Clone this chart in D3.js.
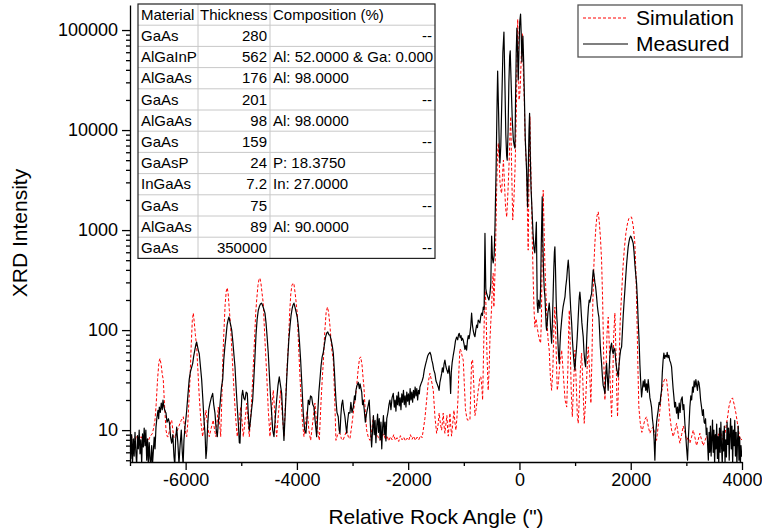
<!DOCTYPE html>
<html>
<head>
<meta charset="utf-8">
<script src="https://cdn.jsdelivr.net/npm/d3@7"></script>
<style>
  body { margin: 0; background: #fff; }
  svg { display: block; font-family: Arial, "Liberation Sans", sans-serif; }
</style>
</head>
<body>
<svg id="chart" width="762" height="530"></svg>
<script>
// axis ticks
const xTicks = [-6000, -4000, -2000, 0, 2000, 4000];
const yTicks = [10, 100, 1000, 10000, 100000];

// layer table
const materials = ['GaAs', 'AlGaInP', 'AlGaAs', 'GaAs', 'AlGaAs', 'GaAs', 'GaAsP', 'InGaAs', 'GaAs', 'AlGaAs', 'GaAs'];
const thickness = ['280', '562', '176', '201', '98', '159', '24', '7.2', '75', '89', '350000'];
const composition = ['--', 'Al: 52.0000 & Ga: 0.000', 'Al: 98.0000', '--', 'Al: 98.0000', '--', 'P: 18.3750', 'In: 27.0000', '--', 'Al: 90.0000', '--'];

// [angle ("), intensity]
const simulation = [
  [-7000,10],[-6960,8.2],[-6920,7.6],[-6880,8.8],[-6840,7.7],[-6800,8.6],[-6760,7.5],[-6720,8.4],[-6680,7.6],[-6641,8.6],
  [-6600,9.2],[-6575,10.5],[-6551,12.6],[-6530,18],[-6505,32],[-6480,48],[-6461,52],[-6440,45],[-6420,36],[-6402,32],
  [-6380,18],[-6353,10],[-6330,8.6],[-6312,8.6],[-6290,10],[-6270,12],[-6251,12.6],[-6230,10],[-6210,8.4],[-6191,8.6],
  [-6160,9.5],[-6120,11],[-6080,12.5],[-6042,13.6],[-6010,10],[-5981,8.6],[-5960,12],[-5940,20],[-5922,32],[-5900,70],
  [-5880,125],[-5862,148],[-5845,120],[-5825,90],[-5802,68],[-5780,40],[-5755,21.5],[-5725,12],[-5694,8.6],[-5665,12],
  [-5634,15.8],[-5605,11],[-5575,8.6],[-5540,10.5],[-5503,12.6],[-5480,10],[-5455,8.6],[-5435,12],[-5413,17],[-5390,12],
  [-5370,8.6],[-5350,20],[-5330,55],[-5311,100],[-5290,180],[-5270,245],[-5252,265],[-5235,230],[-5215,160],[-5191,108],
  [-5160,50],[-5131,25],[-5100,13],[-5072,8.6],[-5040,12],[-5011,17],[-4985,12],[-4964,8.6],[-4935,12],[-4903,18.6],
  [-4880,12.5],[-4856,8.6],[-4825,15],[-4795,32],[-4760,85],[-4740,150],[-4723,200],[-4700,280],[-4680,325],[-4664,330],
  [-4645,290],[-4625,230],[-4605,186],[-4575,80],[-4544,37],[-4515,16],[-4484,8.6],[-4455,15],[-4425,25],[-4395,14],
  [-4364,8.6],[-4330,15],[-4292,25],[-4262,14],[-4233,8.6],[-4200,22],[-4175,45],[-4155,68],[-4130,150],[-4110,230],
  [-4090,280],[-4070,295],[-4053,288],[-4030,230],[-4010,180],[-3994,148],[-3965,60],[-3933,25],[-3900,12],[-3873,8.6],
  [-3845,12],[-3814,15.8],[-3785,10],[-3753,7.9],[-3715,12],[-3676,18.6],[-3640,11],[-3598,7.9],[-3565,20],[-3545,32],
  [-3526,47],[-3500,95],[-3475,150],[-3451,170],[-3430,150],[-3406,110],[-3375,65],[-3346,50],[-3320,20],[-3298,7.9],
  [-3262,9.3],[-3226,9.3],[-3200,8.2],[-3172,7.9],[-3140,8.8],[-3106,10],[-3075,8.5],[-3047,8.2],[-3015,11],[-2987,14.8],
  [-2955,20],[-2927,27],[-2900,40],[-2875,52],[-2854,54],[-2830,45],[-2810,33],[-2795,27],[-2770,15],[-2747,10],
  [-2715,8.4],[-2687,7.9],[-2655,10],[-2627,13.6],[-2595,10.5],[-2567,9.3],[-2535,8.4],[-2508,7.9],[-2470,8.6],[-2440,9.2],
  [-2410,8],[-2380,8.8],[-2350,7.8],[-2320,8.6],[-2290,8],[-2260,9],[-2230,7.9],[-2200,8.4],[-2170,7.7],[-2140,8.8],
  [-2110,8],[-2080,8.5],[-2050,7.8],[-2020,8.3],[-1990,7.9],[-1960,9],[-1930,8.1],[-1900,8.7],[-1870,7.9],[-1840,8.5],
  [-1810,8],[-1780,8.8],[-1750,8.4],[-1735,9.5],[-1700,13],[-1668,20],[-1640,30],[-1609,37],[-1580,31],[-1549,25],
  [-1519,13.6],[-1489,9.3],[-1465,11],[-1443,14.8],[-1420,11.5],[-1399,10],[-1385,12],[-1370,14.8],[-1355,11],[-1340,9.3],
  [-1322,11.5],[-1304,14],[-1292,10.5],[-1280,8.7],[-1265,11],[-1250,14.8],[-1235,11],[-1220,8.7],[-1200,11.5],[-1177,15.8],
  [-1160,12],[-1142,10],[-1125,13],[-1106,20],[-1088,40],[-1070,65],[-1050,62],[-1030,55],[-1010,50],[-990,28],
  [-970,16],[-950,13.6],[-935,12.6],[-920,12.6],[-905,12.6],[-890,12.6],[-875,25],[-860,50],[-842,50],[-820,28],
  [-800,14],[-780,16],[-760,20],[-741,25],[-720,30],[-710,34],[-693,34],[-678,28],[-662,20],[-645,60],
  [-630,150],[-620,250],[-603,186],[-585,60],[-562,25],[-545,40],[-531,79],[-515,120],[-500,170],[-486,300],
  [-472,370],[-460,170],[-445,300],[-430,630],[-410,2500],[-395,5500],[-380,7400],[-365,5000],[-350,3000],[-335,2500],
  [-320,2340],[-305,3500],[-288,5000],[-270,3000],[-250,1700],[-229,1350],[-210,2200],[-195,3500],[-183,5300],[-170,9000],
  [-157,13600],[-140,4000],[-121,1260],[-100,2000],[-80,4000],[-65,9000],[-53,20000],[-42,60000],[-31,128000],[-20,60000],
  [-8,20000],[5,22000],[19,31600],[35,60000],[51,92000],[65,50000],[76,28000],[87,20000],[100,9000],[115,5500],
  [128,4300],[143,1500],[157,630],[170,3000],[180,9000],[188,13600],[200,5500],[210,3000],[218,1990],[233,700],
  [250,280],[262,160],[277,107],[298,130],[319,107],[340,90],[360,80],[380,74],[395,130],[405,400],
  [417,1200],[427,2500],[440,1200],[455,500],[476,232],[495,120],[515,80],[535,63],[555,35],[578,25],
  [600,40],[620,110],[637,170],[655,80],[679,25],[700,30],[725,45],[759,63],[790,35],[820,20],
  [849,17],[870,40],[885,100],[896,158],[910,80],[930,25],[950,13.6],[975,30],[997,63],[1020,30],
  [1040,14],[1056,11.7],[1075,20],[1095,40],[1117,59],[1140,30],[1164,11.7],[1190,20],[1215,40],[1236,68],
  [1260,40],[1284,18.6],[1305,60],[1320,200],[1340,480],[1356,740],[1375,1100],[1395,1400],[1416,1520],[1435,1200],
  [1455,850],[1476,500],[1495,200],[1515,50],[1536,20],[1555,40],[1575,95],[1596,135],[1615,70],[1635,25],
  [1656,13.6],[1675,30],[1695,90],[1715,148],[1735,60],[1750,22],[1763,13.6],[1785,35],[1810,120],[1836,232],
  [1860,420],[1885,650],[1913,930],[1940,1150],[1965,1300],[1990,1350],[2015,1350],[2045,1100],[2074,740],[2095,350],
  [2115,110],[2130,40],[2146,17],[2170,12],[2200,9.5],[2224,10.8],[2255,12.8],[2284,13.6],[2314,11],[2344,9.3],
  [2374,10.2],[2404,10.8],[2435,9],[2464,7.9],[2494,11],[2524,15.8],[2554,24],[2584,29.5],[2615,33],[2644,32],
  [2675,22],[2704,13.6],[2735,10],[2764,8.6],[2795,10],[2824,11.7],[2855,9],[2884,7.4],[2915,9],[2944,11],
  [2975,9.5],[3003,7.9],[3033,8.5],[3063,7.4],[3093,8.5],[3123,10],[3153,8.5],[3183,7],[3213,8],[3243,9.3],
  [3273,8],[3303,7],[3333,7.8],[3363,8.7],[3393,8],[3423,7.4],[3453,8.2],[3483,9.3],[3513,8.5],[3543,7.9],
  [3573,8.8],[3602,10],[3632,9],[3662,7.9],[3692,9],[3722,11.7],[3745,14],[3764,17],[3795,20],[3830,21],
  [3860,18],[3890,14.8],[3915,12],[3935,10],[3960,8.5],[3980,7.9],[4000,8.2]
];

const measured = [
  [-7000,7.5],[-6985,5.2],[-6970,9],[-6955,4.6],[-6940,8.2],[-6925,5.5],[-6910,9.5],[-6895,6],[-6880,4.5],[-6865,8.8],
  [-6850,6.5],[-6835,10],[-6820,5.8],[-6805,8],[-6790,4.6],[-6775,9.2],[-6760,6.8],[-6745,10.5],[-6730,7],[-6715,10],
  [-6700,5],[-6685,8.2],[-6670,4.5],[-6655,7.5],[-6640,5.2],[-6625,4.4],[-6610,7],[-6595,4.6],[-6580,6.2],[-6565,8.5],
  [-6550,6.5],[-6533,10.7],[-6515,13.5],[-6497,15.8],[-6485,13],[-6473,17],[-6455,15],[-6438,18.6],[-6420,16],[-6407,20],
  [-6390,17],[-6370,15.5],[-6353,14.8],[-6335,12],[-6310,13],[-6290,11.7],[-6270,8.5],[-6251,7.4],[-6230,9],[-6210,5.5],
  [-6195,4.5],[-6180,8],[-6161,10.7],[-6140,7.5],[-6120,4.6],[-6100,7],[-6078,10],[-6060,6],[-6045,4.5],[-6030,8],
  [-6010,11],[-5995,13],[-5981,15.8],[-5960,22],[-5936,32],[-5915,38],[-5895,42],[-5873,46.5],[-5855,55],[-5835,63],
  [-5815,72],[-5802,76],[-5785,68],[-5770,62],[-5755,58],[-5735,44],[-5712,32],[-5690,20],[-5670,12.6],[-5650,9],
  [-5635,5.2],[-5622,6.3],[-5605,11],[-5585,16],[-5562,18.6],[-5540,21],[-5514,23.3],[-5495,18],[-5473,14.8],[-5450,10],
  [-5431,8.6],[-5412,12],[-5395,14.8],[-5375,20],[-5355,27],[-5334,32],[-5315,50],[-5295,68],[-5275,86],[-5255,112],
  [-5235,128],[-5221,135],[-5205,122],[-5190,112],[-5172,100],[-5150,75],[-5130,55],[-5113,43],[-5095,28],[-5072,17],
  [-5050,11],[-5035,7.5],[-5023,7.4],[-5008,13],[-4990,22],[-4975,25],[-4955,21],[-4934,20],[-4912,24],[-4892,23.3],
  [-4875,15],[-4856,10],[-4838,12],[-4815,16],[-4795,20],[-4775,32],[-4754,54],[-4735,90],[-4715,128],[-4694,158],
  [-4675,172],[-4655,182],[-4634,186],[-4615,175],[-4595,162],[-4574,148],[-4555,118],[-4535,85],[-4515,59],[-4495,36],
  [-4475,22],[-4454,14.8],[-4435,10],[-4412,8.6],[-4390,13],[-4364,20],[-4340,28],[-4317,34],[-4295,28],[-4274,23.3],
  [-4255,14],[-4233,7.9],[-4210,15],[-4184,32],[-4160,58],[-4145,80],[-4125,108],[-4105,140],[-4085,165],[-4070,178],
  [-4053,186],[-4035,170],[-4015,152],[-3994,135],[-3975,110],[-3955,78],[-3933,50],[-3910,28],[-3886,14.8],[-3860,10],
  [-3837,9.3],[-3815,14],[-3796,20],[-3775,18],[-3755,22],[-3735,21.5],[-3715,18],[-3694,17],[-3670,12],[-3645,8.6],
  [-3625,15],[-3605,24],[-3586,32],[-3566,44],[-3546,54],[-3526,60],[-3505,72],[-3485,85],[-3466,93],[-3445,96],
  [-3425,90],[-3406,89],[-3385,80],[-3365,70],[-3346,59],[-3325,38],[-3310,26],[-3298,20],[-3280,15],[-3257,13.6],
  [-3240,10],[-3226,9.3],[-3210,14],[-3195,18],[-3178,20],[-3160,16],[-3137,13.6],[-3120,11],[-3106,9.3],[-3090,12],
  [-3070,15],[-3047,14.8],[-3030,19],[-3010,15],[-2987,17],[-2965,22],[-2950,20],[-2939,25],[-2920,28],[-2897,30],
  [-2878,26],[-2865,29],[-2854,27],[-2835,24],[-2820,18],[-2807,20],[-2790,16],[-2770,12],[-2747,14.8],[-2725,17],
  [-2700,20],[-2685,13],[-2670,9],[-2657,6.8],[-2640,10],[-2625,14],[-2610,9],[-2595,12.5],[-2580,7.5],[-2565,11],
  [-2550,14.5],[-2535,9.5],[-2520,13],[-2505,8],[-2490,12],[-2475,6.5],[-2460,10.5],[-2445,14],[-2430,9],[-2415,12],
  [-2400,7.8],[-2385,13],[-2364,15],[-2345,18],[-2328,20],[-2310,16],[-2290,21],[-2268,23.3],[-2250,17],[-2235,20],
  [-2220,15.5],[-2205,22],[-2190,18],[-2175,24],[-2160,17.5],[-2145,21],[-2130,16],[-2115,23],[-2100,19],[-2085,25],
  [-2070,18],[-2055,22],[-2040,17],[-2025,24],[-2010,19.5],[-1995,23],[-1980,18],[-1965,26],[-1950,20],[-1935,24],
  [-1920,19],[-1905,25],[-1890,21],[-1875,27],[-1860,22],[-1845,26],[-1830,20],[-1815,25],[-1800,23],[-1789,27],
  [-1770,29],[-1750,31],[-1729,34],[-1710,40],[-1690,45],[-1668,50],[-1650,55],[-1630,58],[-1609,60],[-1590,56],
  [-1575,50],[-1560,46.5],[-1540,40],[-1519,36.7],[-1500,31],[-1480,29],[-1460,27],[-1445,25],[-1430,30],[-1415,33],
  [-1399,36.7],[-1385,42],[-1370,38],[-1355,46],[-1340,50],[-1321,43],[-1305,40],[-1285,37],[-1265,44],[-1250,34],
  [-1237,23.3],[-1225,38],[-1210,47],[-1190,56],[-1170,65],[-1150,78],[-1130,85],[-1110,80],[-1095,90],[-1083,93],
  [-1065,84],[-1050,88],[-1040,79],[-1025,83],[-1010,79],[-995,72],[-980,64],[-965,70],[-950,63],[-935,78],
  [-920,88],[-905,82],[-890,93],[-875,110],[-860,148],[-845,112],[-830,98],[-815,90],[-800,86],[-785,100],
  [-770,112],[-755,106],[-741,126],[-724,122],[-710,118],[-695,138],[-680,148],[-665,140],[-650,170],[-635,160],
  [-620,930],[-605,260],[-590,232],[-570,215],[-549,200],[-530,230],[-515,290],[-500,870],[-485,520],[-472,470],
  [-455,560],[-440,1080],[-420,4000],[-405,15000],[-392,38900],[-375,15000],[-362,6500],[-351,4700],[-335,7000],[-315,22000],
  [-298,60000],[-279,95500],[-262,30000],[-245,9000],[-230,5500],[-220,5000],[-205,9500],[-190,30000],[-176,55000],[-166,62000],
  [-150,30000],[-130,13000],[-110,8000],[-94,7000],[-81,6600],[-70,20000],[-58,60000],[-46,104700],[-34,60000],[-22,31600],
  [-10,60000],[5,120000],[20,144500],[32,90000],[44,48000],[53,70000],[62,87000],[75,50000],[90,20000],[105,8000],
  [118,5500],[128,4000],[137,2600],[146,1700],[160,4500],[172,10000],[182,14700],[195,5500],[208,2600],[218,2000],
  [230,1400],[245,900],[262,650],[277,590],[290,800],[304,1200],[311,500],[319,186],[332,150],[345,200],
  [358,180],[368,165],[380,260],[392,700],[409,2150],[420,800],[432,400],[445,260],[458,215],[470,150],
  [480,110],[488,100],[499,117],[512,150],[524,165],[535,186],[548,150],[560,105],[578,74],[592,120],
  [605,220],[618,420],[628,600],[637,680],[648,400],[660,200],[670,140],[679,117],[690,80],[703,55],
  [715,46.5],[728,70],[740,95],[759,126],[772,150],[785,172],[800,190],[818,215],[832,270],[850,330],
  [864,420],[877,500],[890,400],[905,250],[922,160],[938,117],[952,80],[968,58],[983,46],[997,40],
  [1010,52],[1025,65],[1039,86],[1052,120],[1065,170],[1076,215],[1086,240],[1098,200],[1110,150],[1122,118],
  [1134,100],[1146,86],[1160,60],[1175,48],[1189,43],[1200,60],[1212,90],[1226,130],[1240,170],[1254,200],
  [1268,190],[1282,215],[1297,232],[1312,320],[1326,400],[1340,360],[1355,300],[1369,270],[1385,220],[1400,175],
  [1414,150],[1428,135],[1440,100],[1452,70],[1465,55],[1476,46.5],[1490,35],[1505,28],[1520,26],[1536,23.3],
  [1550,34],[1566,46.5],[1580,34],[1594,25],[1610,38],[1625,55],[1640,68],[1656,74],[1670,62],[1685,58],
  [1700,66],[1715,63],[1730,50],[1745,42],[1760,38],[1775,34],[1790,45],[1805,55],[1820,64],[1836,68],
  [1850,95],[1865,140],[1880,190],[1895,251],[1910,340],[1925,450],[1940,560],[1954,680],[1968,760],[1982,830],
  [1997,870],[2010,850],[2025,800],[2044,740],[2060,600],[2075,450],[2090,360],[2105,293],[2120,200],[2135,120],
  [2152,74],[2165,45],[2180,30],[2195,21.5],[2210,26],[2225,31],[2240,27],[2254,32],[2270,25],[2285,29],
  [2300,24],[2314,32],[2330,26],[2345,21],[2360,19],[2374,17],[2390,13],[2405,11],[2420,8],[2434,5],
  [2448,9],[2465,12],[2480,14],[2494,15.8],[2510,19],[2525,18],[2540,22],[2554,25],[2568,38],[2582,50],
  [2596,59],[2610,52],[2625,56],[2644,54],[2655,60],[2670,53],[2686,56],[2700,50],[2718,47],[2734,43],
  [2750,32],[2762,26],[2776,21.5],[2790,17],[2805,19],[2824,14.8],[2840,17],[2855,13],[2871,18.6],[2888,15],
  [2905,20],[2925,21.5],[2940,16],[2955,18],[2973,11.7],[2988,9],[3005,6.5],[3021,5],[3035,8],[3050,12],
  [3063,17],[3080,22],[3095,20],[3111,27],[3125,24],[3140,31],[3155,27],[3171,32],[3185,28],[3200,25],
  [3212,31],[3225,30],[3240,26],[3256,20],[3273,17],[3290,14],[3305,16],[3320,12],[3333,11.7],[3345,13],
  [3358,9],[3370,10.5],[3381,7.4],[3395,5],[3408,9.5],[3420,6],[3432,11],[3445,5.5],[3458,8.5],[3470,12.6],
  [3482,6],[3495,10],[3508,4.6],[3520,9],[3532,6.5],[3545,11.5],[3558,5.2],[3570,8.6],[3582,4.6],[3595,10.5],
  [3608,6],[3620,12],[3632,7],[3645,4.5],[3658,9.8],[3670,6.2],[3682,11],[3695,4.8],[3708,8],[3720,5.4],
  [3732,12],[3745,7.2],[3758,10.5],[3770,5],[3782,9],[3795,13],[3808,6.5],[3820,11],[3832,4.6],[3845,10],
  [3858,7],[3870,12.5],[3882,5.5],[3895,9.5],[3908,4.5],[3920,8],[3932,11],[3945,5],[3958,8.5],[3970,4.4],
  [3982,7],[3995,5.5],[4000,6]
];

const svg = d3.select('#chart');
const plot = {left: 130, right: 742, top: 5, bottom: 462};

const x = d3.scaleLinear().domain([-7000, 4000]).range([plot.left, plot.right]);
const y = d3.scaleLog().domain([4.8, 178000]).range([plot.bottom, plot.top]);

svg.append('clipPath').attr('id', 'clip')
  .append('rect')
  .attr('x', plot.left).attr('y', plot.top)
  .attr('width', plot.right - plot.left).attr('height', plot.bottom - plot.top);

const line = d3.line()
  .x(d => x(d[0]))
  .y(d => y(d[1]));

const curves = svg.append('g').attr('clip-path', 'url(#clip)');

curves.append('path')
  .datum(simulation)
  .attr('d', line)
  .attr('fill', 'none')
  .attr('stroke', '#ff0000')
  .attr('stroke-width', 1)
  .attr('stroke-dasharray', '3,2');

curves.append('path')
  .datum(measured)
  .attr('d', line)
  .attr('fill', 'none')
  .attr('stroke', '#000')
  .attr('stroke-width', 1.2)
  .attr('stroke-linejoin', 'round');

// x axis
const xMinor = x.ticks(11).filter(t => xTicks.indexOf(t) < 0);
svg.append('g')
  .attr('transform', 'translate(0,' + plot.bottom + ')')
  .call(d3.axisBottom(x).tickValues(xMinor).tickSize(4).tickFormat(''))
  .call(g => g.select('.domain').remove());
const xAxis = svg.append('g')
  .attr('transform', 'translate(0,' + plot.bottom + ')')
  .call(d3.axisBottom(x).tickValues(xTicks).tickSize(8).tickSizeOuter(0).tickPadding(3).tickFormat(d => String(d)));
xAxis.selectAll('text').attr('font-size', 18).attr('fill', '#000');

// y axis
const yMinor = y.ticks().filter(t => yTicks.indexOf(t) < 0);
svg.append('g')
  .attr('transform', 'translate(' + plot.left + ',0)')
  .call(d3.axisLeft(y).tickValues(yMinor).tickSize(4).tickFormat(''))
  .call(g => g.select('.domain').remove());
const yAxis = svg.append('g')
  .attr('transform', 'translate(' + plot.left + ',0)')
  .call(d3.axisLeft(y).tickValues(yTicks).tickSize(8).tickSizeOuter(0).tickPadding(4).tickFormat(d => String(d)));
yAxis.selectAll('text').attr('font-size', 18).attr('fill', '#000');

svg.selectAll('.domain, .tick line').attr('stroke', '#000').attr('stroke-width', 1.3);

// axis titles
svg.append('text')
  .attr('x', 436).attr('y', 524)
  .attr('text-anchor', 'middle')
  .attr('font-size', 21)
  .text('Relative Rock Angle (")');

svg.append('text')
  .attr('transform', 'translate(27,233) rotate(-90)')
  .attr('text-anchor', 'middle')
  .attr('font-size', 21)
  .text('XRD Intensity');

// legend
const legend = svg.append('g');
legend.append('rect')
  .attr('x', 578).attr('y', 5).attr('width', 164).attr('height', 52)
  .attr('fill', '#fff').attr('stroke', '#555').attr('stroke-width', 1.3);
legend.append('line')
  .attr('x1', 583).attr('x2', 628).attr('y1', 18).attr('y2', 18)
  .attr('stroke', '#ff0000').attr('stroke-dasharray', '3,2');
legend.append('line')
  .attr('x1', 583).attr('x2', 628).attr('y1', 44).attr('y2', 44)
  .attr('stroke', '#000').attr('stroke-width', 1.2);
legend.append('text').attr('x', 636).attr('y', 18).attr('dy', '0.35em')
  .attr('font-size', 21).text('Simulation');
legend.append('text').attr('x', 636).attr('y', 44).attr('dy', '0.35em')
  .attr('font-size', 21).text('Measured');

// layer table
const cols = [138, 198, 270, 435];
const tableTop = 4, rowH = 21.2;
const nRows = materials.length + 1;
const table = svg.append('g');
table.append('rect')
  .attr('x', cols[0]).attr('y', tableTop)
  .attr('width', cols[3] - cols[0]).attr('height', nRows * rowH)
  .attr('fill', '#fff');
for (let i = 1; i < nRows; i++) {
  table.append('line')
    .attr('x1', cols[0]).attr('x2', cols[3])
    .attr('y1', tableTop + i * rowH).attr('y2', tableTop + i * rowH)
    .attr('stroke', '#c8c8c8');
}
[cols[1], cols[2]].forEach(cx => {
  table.append('line')
    .attr('x1', cx).attr('x2', cx)
    .attr('y1', tableTop).attr('y2', tableTop + nRows * rowH)
    .attr('stroke', '#c8c8c8');
});
table.append('rect')
  .attr('x', cols[0]).attr('y', tableTop)
  .attr('width', cols[3] - cols[0]).attr('height', nRows * rowH)
  .attr('fill', 'none').attr('stroke', '#222').attr('stroke-width', 1.2);

function cell(txt, cx, row, anchor) {
  table.append('text')
    .attr('x', cx).attr('y', tableTop + (row + 0.5) * rowH)
    .attr('dy', '0.35em')
    .attr('text-anchor', anchor)
    .attr('font-size', 15)
    .text(txt);
}
cell('Material', cols[0] + 3, 0, 'start');
cell('Thickness', cols[1] + 2, 0, 'start');
cell('Composition (%)', cols[2] + 3, 0, 'start');
materials.forEach((m, i) => {
  cell(m, cols[0] + 3, i + 1, 'start');
  cell(thickness[i], cols[2] - 3, i + 1, 'end');
  if (composition[i] === '--') cell('--', cols[3] - 3, i + 1, 'end');
  else cell(composition[i], cols[2] + 3, i + 1, 'start');
});
</script>
</body>
</html>
